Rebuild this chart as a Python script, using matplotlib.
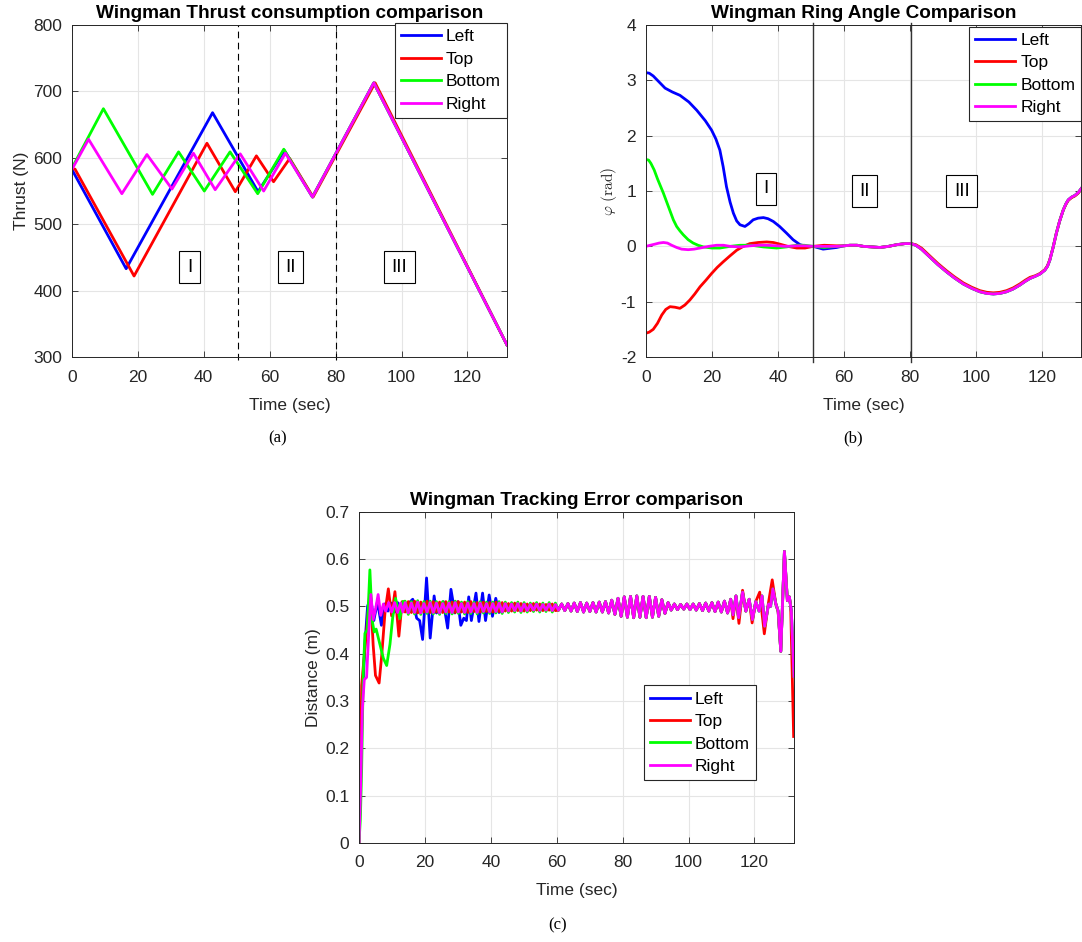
import numpy as np
import matplotlib
matplotlib.use('Agg')
import matplotlib.pyplot as plt

plt.rcParams['font.family'] = ['Liberation Sans', 'DejaVu Sans']
plt.rcParams['mathtext.fontset'] = 'cm'
plt.rcParams['axes.unicode_minus'] = False

# ---------------- data ----------------
series_names = ['Left', 'Top', 'Bottom', 'Right']

# (a) thrust
thrust_t_left = [0, 16.5, 42.7, 56.5, 64.5, 73.0, 91.6, 132]
thrust_left = [583, 433, 668, 549, 611, 541, 713, 318]
thrust_t_top = [0, 1.0, 18.9, 41.0, 49.6, 56.0, 61.2, 66.1, 73.2, 92.0, 132]
thrust_top = [584, 583, 422, 622, 549, 603, 564, 599, 541, 713, 318]
thrust_t_bottom = [0, 9.6, 24.5, 32.4, 40.2, 48.0, 56.4, 64.3, 73.0, 91.6, 132]
thrust_bottom = [584, 674, 545, 609, 550, 609, 546, 613, 541, 713, 318]
thrust_t_right = [0, 5.1, 15.2, 22.8, 30.4, 36.9, 43.5, 51.1, 58.2, 64.8, 73.0, 91.6, 132]
thrust_right = [582, 628, 546, 605, 553, 607, 552, 606, 550, 607, 541, 713, 318]

# (b) ring angle
angle_t_left = [0, 1.0, 2.2, 4.0, 5.8, 8.0, 10.3, 13.0, 15.4, 18.0, 19.9, 21.2, 22.4, 23.4, 24.4,
                25.5, 26.5, 27.5, 28.5, 30.0, 31.2, 32.5, 34.0, 35.6, 37.0, 38.6, 40.5, 42.6,
                44.6, 46.7, 48.7, 50.7, 53.7, 57.8]
angle_left = [3.14, 3.13, 3.08, 2.97, 2.86, 2.79, 2.73, 2.61, 2.46, 2.27, 2.10, 1.94, 1.74, 1.44, 1.08,
              0.80, 0.60, 0.46, 0.39, 0.36, 0.41, 0.48, 0.51, 0.52, 0.50, 0.45, 0.36, 0.24,
              0.12, 0.03, 0.0, 0.0, -0.05, -0.02]
angle_t_top = [0, 1.0, 2.2, 3.5, 4.8, 6.0, 7.3, 8.8, 10.3, 11.8, 13.3, 14.8, 16.4, 18.2, 19.9,
               21.6, 23.4, 25.5, 27.5, 29.5, 31.5, 34.0, 36.6, 38.6, 40.6, 43.0, 45.7, 48.2, 50.7,
               54.0, 57.8]
angle_top = [-1.57, -1.55, -1.50, -1.39, -1.24, -1.14, -1.09, -1.10, -1.12, -1.06, -0.97, -0.86, -0.73,
             -0.61, -0.49, -0.38, -0.28, -0.17, -0.07, 0.0, 0.05, 0.07, 0.08, 0.07, 0.04, 0.0,
             -0.03, -0.03, 0.0, 0.02, 0.01]
angle_t_bottom = [0, 0.8, 1.5, 2.5, 3.5, 4.4, 5.3, 6.3, 7.3, 8.3, 9.3, 10.3, 11.3, 12.8, 14.3,
                  15.8, 17.4, 20.0, 22.4, 25.5, 28.5, 32.0, 35.6, 39.6, 42.6, 45.7, 48.0, 50.7,
                  54.0, 57.8]
angle_bottom = [1.57, 1.56, 1.50, 1.38, 1.22, 1.09, 0.96, 0.80, 0.64, 0.48, 0.36, 0.28, 0.21, 0.12, 0.06,
                0.02, -0.01, -0.03, -0.03, 0.0, 0.02, 0.02, -0.01, -0.03, -0.01, 0.02, 0.02, 0.0,
                -0.02, 0.0]
angle_t_right = [0, 1.3, 2.7, 4.0, 5.3, 6.5, 7.8, 9.3, 10.8, 12.8, 14.6, 16.4, 19.0, 21.4, 23.5, 25.5,
                 28.5, 31.5, 34.0, 36.6, 39.6, 42.6, 45.7, 48.2, 50.7, 54.0, 57.8]
angle_right = [0.0, 0.02, 0.04, 0.06, 0.07, 0.06, 0.02, -0.02, -0.05, -0.06, -0.05, -0.03, 0.0, 0.02,
               0.02, 0.0, -0.01, 0.01, 0.02, 0.02, 0.01, 0.0, 0.01, 0.01, 0.0, 0.0, 0.0]
angle_t_tail = [60.0, 61.8, 64.0, 65.9, 68.5, 70.9, 73.5, 76.0, 78.5, 80.3, 81.8, 83.5, 86.0, 88.5, 91.1,
                93.5, 96.2, 98.8, 101.2, 103.3, 105.3, 107.3, 109.3, 111.3, 113.3, 115.0, 116.4,
                118.0, 119.4, 120.9, 121.7, 122.4, 123.4, 124.4, 125.4, 126.5, 127.3, 128.0, 129.0,
                130.0, 131.0, 132.0]
angle_tail = [0.01, 0.02, 0.02, 0.0, -0.01, -0.02, 0.0, 0.03, 0.05, 0.05, 0.02, -0.05, -0.19, -0.33, -0.46,
              -0.57, -0.68, -0.76, -0.82, -0.85, -0.86, -0.85, -0.82, -0.77, -0.70, -0.63, -0.58,
              -0.54, -0.50, -0.43, -0.36, -0.25, -0.02, 0.24, 0.46, 0.66, 0.77, 0.84, 0.89,
              0.92, 0.97, 1.05]
angle_tail_top = [0.01, 0.02, 0.02, 0.0, -0.01, -0.02, 0.0, 0.03, 0.05, 0.05, 0.03, -0.03, -0.17, -0.31,
                  -0.44, -0.55, -0.66, -0.74, -0.80, -0.83, -0.84, -0.83, -0.80, -0.75, -0.68, -0.61,
                  -0.56, -0.53, -0.49, -0.42, -0.35, -0.24, -0.02, 0.24, 0.46, 0.66, 0.76, 0.83,
                  0.88, 0.91, 0.96, 1.04]

# (c) tracking error
dist_t_left_early = [0, 0.5, 1.0, 1.8, 2.6, 3.5, 4.5, 5.6, 6.8, 7.8, 8.8, 9.8, 10.8, 11.7, 12.6, 13.5,
                     14.4, 15.3, 16.3, 17.5, 18.4, 19.3, 20.5, 21.6, 22.8, 23.5, 24.5, 25.6, 26.9,
                     27.9, 29.1, 30.0, 30.9, 31.8, 32.6, 33.3, 34.1, 35.5, 36.4, 37.5, 38.4, 39.5,
                     40.5, 41.5, 42.5]
dist_left_early = [0, 0.15, 0.30, 0.42, 0.50, 0.52, 0.47, 0.51, 0.46, 0.505, 0.49, 0.507, 0.488, 0.508,
                   0.487, 0.508, 0.49, 0.508, 0.515, 0.475, 0.47, 0.43, 0.56, 0.433, 0.522, 0.486, 0.50,
                   0.51, 0.454, 0.536, 0.486, 0.51, 0.46, 0.475, 0.47, 0.52, 0.47, 0.528, 0.468,
                   0.528, 0.47, 0.524, 0.479, 0.517, 0.487]
dist_t_top_early = [0, 0.4, 0.8, 1.6, 2.8, 3.4, 4.3, 5.0, 6.1, 6.9, 7.9, 8.9, 9.9, 10.9, 12.1, 13.1]
dist_top_early = [0, 0.12, 0.333, 0.397, 0.488, 0.54, 0.418, 0.354, 0.338, 0.397, 0.488, 0.537, 0.48,
                  0.531, 0.437, 0.51]
dist_t_bottom_early = [0, 0.4, 0.8, 1.3, 1.8, 2.5, 3.3, 4.0, 4.6, 5.2, 6.4, 7.4, 8.4, 9.4, 10.2, 11.1,
                       12.4, 13.3]
dist_bottom_early = [0, 0.05, 0.155, 0.36, 0.443, 0.45, 0.577, 0.47, 0.446, 0.452, 0.418, 0.39, 0.375,
                     0.42, 0.475, 0.517, 0.474, 0.51]
dist_t_right_early = [0, 0.5, 1.0, 1.6, 2.3, 3.0, 3.6, 4.3, 5.1, 5.8, 6.6, 7.4, 8.1, 9.0, 9.9, 10.8,
                      11.7, 12.6, 13.3]
dist_right_early = [0, 0.12, 0.28, 0.345, 0.35, 0.45, 0.525, 0.472, 0.497, 0.525, 0.481, 0.505, 0.49,
                    0.508, 0.488, 0.508, 0.487, 0.507, 0.488]

# steady part sampled every half period starting at 14 s
dist_mid_start = 14.0
dist_mid_step = 0.95
dist_mid = [0.508, 0.486, 0.507, 0.487, 0.509, 0.486, 0.506, 0.488, 0.508, 0.487,
            0.507, 0.486, 0.506, 0.488, 0.507, 0.487, 0.508, 0.488, 0.506, 0.487,
            0.507, 0.488, 0.506, 0.487, 0.507, 0.489, 0.506, 0.488, 0.506, 0.489,
            0.507, 0.488, 0.506, 0.490, 0.505, 0.491, 0.506, 0.490, 0.505, 0.491,
            0.504, 0.492, 0.505, 0.491, 0.504, 0.492, 0.505, 0.491, 0.504, 0.492,
            0.505, 0.491, 0.506, 0.490, 0.507, 0.489, 0.508, 0.488, 0.507, 0.489,
            0.508, 0.488, 0.509, 0.488, 0.510, 0.486, 0.513, 0.483, 0.517, 0.479,
            0.520, 0.477, 0.521, 0.476, 0.522, 0.477, 0.521, 0.476, 0.521, 0.477,
            0.519, 0.479, 0.514, 0.485, 0.508, 0.492, 0.505, 0.493, 0.504, 0.494,
            0.505, 0.493, 0.505, 0.492, 0.506, 0.491, 0.507, 0.490, 0.508, 0.489,
            0.509, 0.488, 0.511, 0.486]
dist_mid_top = [0.488, 0.510, 0.487, 0.511, 0.486, 0.509, 0.488, 0.511, 0.487, 0.510,
                0.488, 0.509, 0.487, 0.510, 0.488, 0.509, 0.487, 0.510, 0.488, 0.509,
                0.487, 0.510, 0.489, 0.508, 0.488, 0.509, 0.489, 0.508, 0.488, 0.509,
                0.489, 0.508, 0.490, 0.506, 0.490, 0.507, 0.491, 0.506, 0.490, 0.505,
                0.491, 0.506, 0.492, 0.505, 0.491, 0.504, 0.492, 0.505, 0.491]
dist_mid_bottom = [0.511, 0.483, 0.510, 0.484, 0.512, 0.483, 0.510, 0.485, 0.511, 0.484,
                   0.510, 0.483, 0.510, 0.485, 0.510, 0.484, 0.511, 0.485, 0.509, 0.484,
                   0.510, 0.485, 0.509, 0.484, 0.510, 0.486, 0.509, 0.485, 0.509, 0.486,
                   0.510, 0.485, 0.509, 0.487, 0.508, 0.488, 0.509, 0.487, 0.508, 0.488,
                   0.507, 0.489, 0.508, 0.488, 0.507, 0.489, 0.508, 0.488, 0.507]

dist_t_end = [112.8, 113.5, 114.4, 115.2, 116.4, 117.4, 118.4, 119.4, 120.4, 121.4, 122.3, 123.1,
              124.3, 124.9, 125.6, 126.5, 127.2, 128.0, 129.1, 130.0, 130.6, 131.2, 132.0]
dist_right_end = [0.515, 0.482, 0.522, 0.476, 0.530, 0.490, 0.515, 0.472, 0.510, 0.490, 0.522, 0.458,
                  0.505, 0.500, 0.537, 0.505, 0.490, 0.405, 0.616, 0.512, 0.520, 0.490, 0.352]
dist_t_top_end = [112.8, 113.5, 114.4, 115.3, 116.4, 117.4, 118.4, 119.3, 120.4, 121.6, 123.0, 124.2,
                  125.4, 126.5, 127.2, 128.0, 129.1, 130.0, 130.6, 131.0, 131.9]
dist_top_end = [0.515, 0.474, 0.522, 0.464, 0.534, 0.490, 0.515, 0.465, 0.510, 0.530, 0.442, 0.505,
                0.556, 0.505, 0.488, 0.405, 0.616, 0.512, 0.520, 0.500, 0.225]

# ---------------- assemble (c) series ----------------
mid_t = dist_mid_start + dist_mid_step * np.arange(len(dist_mid))
mid_v = np.array(dist_mid)
n_rb = len(dist_mid_top)

t_left = np.concatenate([dist_t_left_early, mid_t[32:], dist_t_end])
v_left = np.concatenate([dist_left_early, mid_v[32:], dist_right_end])
t_top = np.concatenate([dist_t_top_early, mid_t[:n_rb], mid_t[n_rb:], dist_t_top_end])
v_top = np.concatenate([dist_top_early, dist_mid_top, mid_v[n_rb:], dist_top_end])
t_bottom = np.concatenate([dist_t_bottom_early, mid_t[:n_rb], mid_t[n_rb:], dist_t_end])
v_bottom = np.concatenate([dist_bottom_early, dist_mid_bottom, mid_v[n_rb:], dist_right_end])
t_right = np.concatenate([dist_t_right_early, mid_t, dist_t_end])
v_right = np.concatenate([dist_right_early, mid_v, dist_right_end])

colors = ['#0000ff', '#ff0000', '#00ff00', '#ff00ff']
LW = 2.0
TXT = '#262626'
TICK_FS = 12.5
TITLE_FS = 13.7

fig = plt.figure(figsize=(10.82, 9.42), dpi=100)


def style(ax, xlim, ylim, yticks):
    ax.set_xlim(*xlim)
    ax.set_ylim(*ylim)
    ax.set_xticks([0, 20, 40, 60, 80, 100, 120])
    ax.set_yticks(yticks)
    ax.grid(True, color='#e5e5e5', lw=0.8)
    ax.set_axisbelow(True)
    ax.tick_params(direction='in', length=4, width=0.6, labelsize=TICK_FS, colors=TXT,
                   top=True, right=True)
    ax.tick_params(axis='x', pad=9)
    ax.tick_params(axis='y', pad=7)
    for s in ax.spines.values():
        s.set_color(TXT)
        s.set_linewidth(0.7)


def legend(ax, **kw):
    leg = ax.legend(series_names, fontsize=12.5, fancybox=False, framealpha=1,
                    edgecolor=TXT, handlelength=2.3, labelspacing=0.42,
                    handletextpad=0.3, borderpad=0.35, **kw)
    leg.get_frame().set_linewidth(0.8)
    for txt in leg.get_texts():
        txt.set_color('black')
    return leg


def boxed(ax, x, y, s):
    ax.text(x, y, s, ha='center', va='center', fontsize=13.5,
            bbox=dict(boxstyle='square,pad=0.4', fc='white', ec='black', lw=0.8))


# ---------------- (a) ----------------
axa = fig.add_axes([0.0663, 0.621, 0.4023, 0.3524])
axa.plot(thrust_t_left, thrust_left, color=colors[0], lw=LW)
axa.plot(thrust_t_top, thrust_top, color=colors[1], lw=LW)
axa.plot(thrust_t_bottom, thrust_bottom, color=colors[2], lw=LW)
axa.plot(thrust_t_right, thrust_right, color=colors[3], lw=LW)
style(axa, (0, 132), (300, 800), [300, 400, 500, 600, 700, 800])
for xv in (50.4, 80.2):
    axa.axvline(xv, ymin=-0.01, ymax=1, color='black', lw=0.8, ls=(0, (6, 4)), clip_on=False)
boxed(axa, 35.7, 435, 'I')
boxed(axa, 66.3, 435, 'II')
boxed(axa, 99.4, 435, 'III')
axa.set_title('Wingman Thrust consumption comparison', fontsize=TITLE_FS, fontweight='bold', pad=5)
axa.set_xlabel('Time (sec)', fontsize=12.5, color=TXT, labelpad=10)
axa.set_ylabel('Thrust (N)', fontsize=12.5, color=TXT, labelpad=3)
legend(axa, loc='upper right', bbox_to_anchor=(1.0, 1.006), borderaxespad=0)

# ---------------- (b) ----------------
axb = fig.add_axes([0.597, 0.621, 0.4025, 0.3524])
axb.plot(np.concatenate([angle_t_left, angle_t_tail]), np.concatenate([angle_left, angle_tail]),
         color=colors[0], lw=LW)
axb.plot(np.concatenate([angle_t_top, angle_t_tail]), np.concatenate([angle_top, angle_tail_top]),
         color=colors[1], lw=LW)
axb.plot(np.concatenate([angle_t_bottom, angle_t_tail]), np.concatenate([angle_bottom, angle_tail]),
         color=colors[2], lw=LW)
axb.plot(np.concatenate([angle_t_right, angle_t_tail]), np.concatenate([angle_right, angle_tail]),
         color=colors[3], lw=LW)
style(axb, (0, 132), (-2, 4), [-2, -1, 0, 1, 2, 3, 4])
for xv in (50.6, 80.3):
    axb.axvline(xv, ymin=-0.015, ymax=1.005, color='#333333', lw=1.0, clip_on=False)
boxed(axb, 36.4, 1.04, 'I')
boxed(axb, 66.2, 1.0, 'II')
boxed(axb, 95.7, 1.0, 'III')
axb.set_title('Wingman Ring Angle Comparison', fontsize=TITLE_FS, fontweight='bold', pad=5)
axb.set_xlabel('Time (sec)', fontsize=12.5, color=TXT, labelpad=10)
axb.set_ylabel(r'$\varphi\ \mathrm{(rad)}$', fontsize=11, color=TXT, labelpad=1)
legend(axb, loc='upper right', bbox_to_anchor=(1.0, 0.995), borderaxespad=0)

# ---------------- (c) ----------------
axc = fig.add_axes([0.3318, 0.1051, 0.402, 0.3517])
axc.plot(t_left, v_left, color=colors[0], lw=LW)
axc.plot(t_top, v_top, color=colors[1], lw=LW)
axc.plot(t_bottom, v_bottom, color=colors[2], lw=LW)
axc.plot(t_right, v_right, color=colors[3], lw=LW)
style(axc, (0, 132), (0, 0.7), [0, 0.1, 0.2, 0.3, 0.4, 0.5, 0.6, 0.7])
axc.set_yticklabels(['0', '0.1', '0.2', '0.3', '0.4', '0.5', '0.6', '0.7'])
axc.set_title('Wingman Tracking Error comparison', fontsize=TITLE_FS, fontweight='bold', pad=5)
axc.set_xlabel('Time (sec)', fontsize=12.5, color=TXT, labelpad=9)
axc.set_ylabel('Distance (m)', fontsize=12.5, color=TXT, labelpad=3)
legend(axc, loc='lower right', bbox_to_anchor=(0.913, 0.19), borderaxespad=0)

# captions
for x, y, s in [(278, 438, '(a)'), (853, 438, '(b)'), (558, 925, '(c)')]:
    fig.text(x / 1082, 1 - y / 942, s, ha='center', va='center', fontsize=12,
             family='Liberation Serif')

fig.savefig('out.png', dpi=100)
